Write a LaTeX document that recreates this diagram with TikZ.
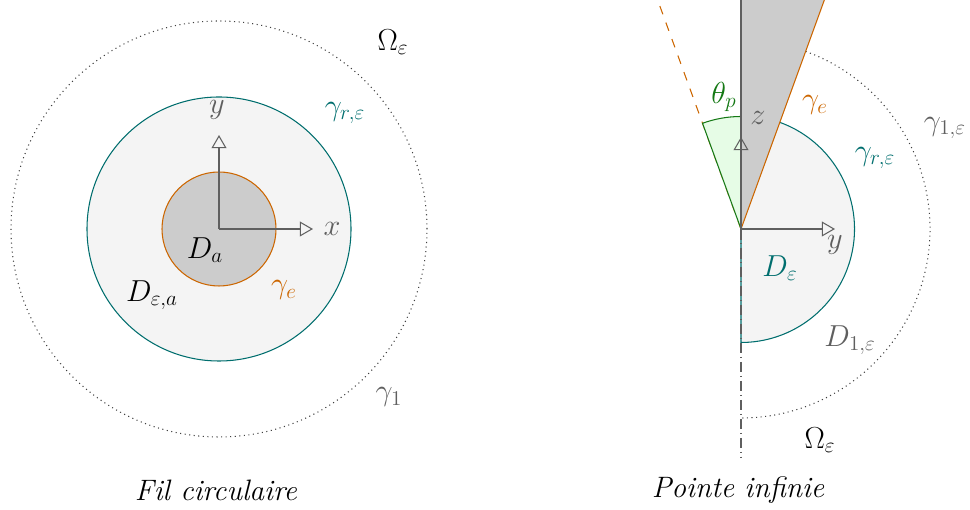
\documentclass[tikz,border=0pt]{standalone}
\usepackage{amsmath,amssymb}
\usepackage{xcolor}
\usepackage{tikz}
\usetikzlibrary{positioning,arrows.meta}
\definecolor{bordr}{RGB}{0,110,110}
\definecolor{bordext}{RGB}{204,102,0}
\definecolor{bordtheta}{RGB}{20,120,20}
\definecolor{fondclair}{RGB}{244,244,244}
\definecolor{fondfil}{RGB}{204,204,204}
\definecolor{fondtheta}{RGB}{230,252,230}
\definecolor{textegris}{RGB}{95,95,95}
\tikzset{
  axe/.style      = {-{Triangle[open,length=7.5pt,width=8.5pt]}, textegris, line width=0.6pt},
  ligner/.style   = {draw=bordr,   line width=0.6pt},
  ligneext/.style = {draw=bordext, line width=0.6pt},
  ligneun/.style  = {dotted, black!75, line width=0.6pt},
  lbl/.style      = {font=\fontsize{17}{20}\selectfont, inner sep=1pt},
  titre/.style    = {font=\fontsize{16.8}{20}\selectfont\itshape, inner sep=1pt}
}

\begin{document}
\begin{tikzpicture}
  \useasboundingbox (-4.38,-5.62) rectangle (15.02,4.58);
  % Fil circulaire
  \coordinate (O)  at (0,0);
  \coordinate (Ox) at (1.88,0);
  \coordinate (Oy) at (0,1.88);
  \draw[ligneun] (O) circle (4.16);
  \draw[ligner, fill=fondclair] (O) circle (2.64);
  \draw[ligneext, fill=fondfil] (O) circle (1.14);
  \draw[axe] (O) -- (Ox);
  \draw[axe] (O) -- (Oy);
  \node[lbl, textegris] (lx)   at (2.26, 0)     {$x$};
  \node[lbl, textegris] (ly)   at (-0.04, 2.38) {$y$};
  \node[lbl]            (Da)   at (-0.28,-0.42) {$D_a$};
  \node[lbl, bordext]   (ge)   at (1.30, -1.22) {$\gamma_e$};
  \node[lbl]            (Dea)  at (-1.34,-1.32) {$D_{\varepsilon,a}$};
  \node[lbl, bordr]     (gre)  at (2.52, 2.32)  {$\gamma_{r,\varepsilon}$};
  \node[lbl]            (Om)   at (3.48, 3.74)  {$\Omega_\varepsilon$};
  \node[lbl, textegris] (g1)   at (3.40,-3.36)  {$\gamma_1$};
  \node[titre]          (t1)   at (-0.06,-5.22) {Fil circulaire};
  % Pointe infinie
  \coordinate (P)   at (10.44,0);
  \coordinate (Ph)  at (10.44,4.58);
  \coordinate (Pd)  at (12.107,4.58);
  \coordinate (Pg)  at (8.773,4.58);
  \coordinate (Pb)  at (10.44,-4.58);
  \coordinate (Py)  at (12.32,0);
  \coordinate (Pz)  at (10.44,1.84);
  \fill[fondclair] (P) -- ++(70:2.27) arc (70:-90:2.27) -- cycle;
  \draw[ligner] (P) ++(70:2.27) arc (70:-90:2.27) -- (P);
  \draw[ligneun] (P) ++(70:3.78) arc (70:-90:3.78);
  \draw[ligneext, dash pattern=on 5pt off 5pt] (P) -- (Pg);
  \draw[draw=bordtheta, fill=fondtheta, line width=0.6pt]
    (P) -- ++(110:2.25) arc (110:90:2.25) -- cycle;
  \fill[fondfil] (P) -- (Ph) -- (Pd) -- cycle;
  \draw[textegris, line width=0.6pt] (P) -- (Ph);
  \draw[ligneext] (P) -- (Pd);
  \draw[textegris, line width=0.6pt, dash pattern=on 6pt off 2pt on 0.8pt off 2pt] (P) -- (Pb);
  \draw[axe] (P) -- (Py);
  \draw[axe] (P) -- (Pz);
  \node[lbl, bordtheta] (thp)  at (10.10, 2.64) {$\theta_p$};
  \node[lbl, textegris] (lz)   at (10.78, 2.22) {$z$};
  \node[lbl, bordext]   (ge2)  at (11.92, 2.48) {$\gamma_e$};
  \node[lbl, bordr]     (gre2) at (13.12, 1.42) {$\gamma_{r,\varepsilon}$};
  \node[lbl, textegris] (g1e)  at (14.52, 2.02) {$\gamma_{1,\varepsilon}$};
  \node[lbl, textegris] (ly2)  at (12.32,-0.32) {$y$};
  \node[lbl, bordr]     (De)   at (11.22,-0.78) {$D_\varepsilon$};
  \node[lbl, textegris] (D1e)  at (12.62,-2.22) {$D_{1,\varepsilon}$};
  \node[lbl]            (Om2)  at (12.02,-4.22) {$\Omega_\varepsilon$};
  \node[titre]          (t2)   at (10.38,-5.22) {Pointe infinie};
\end{tikzpicture}
\end{document}
